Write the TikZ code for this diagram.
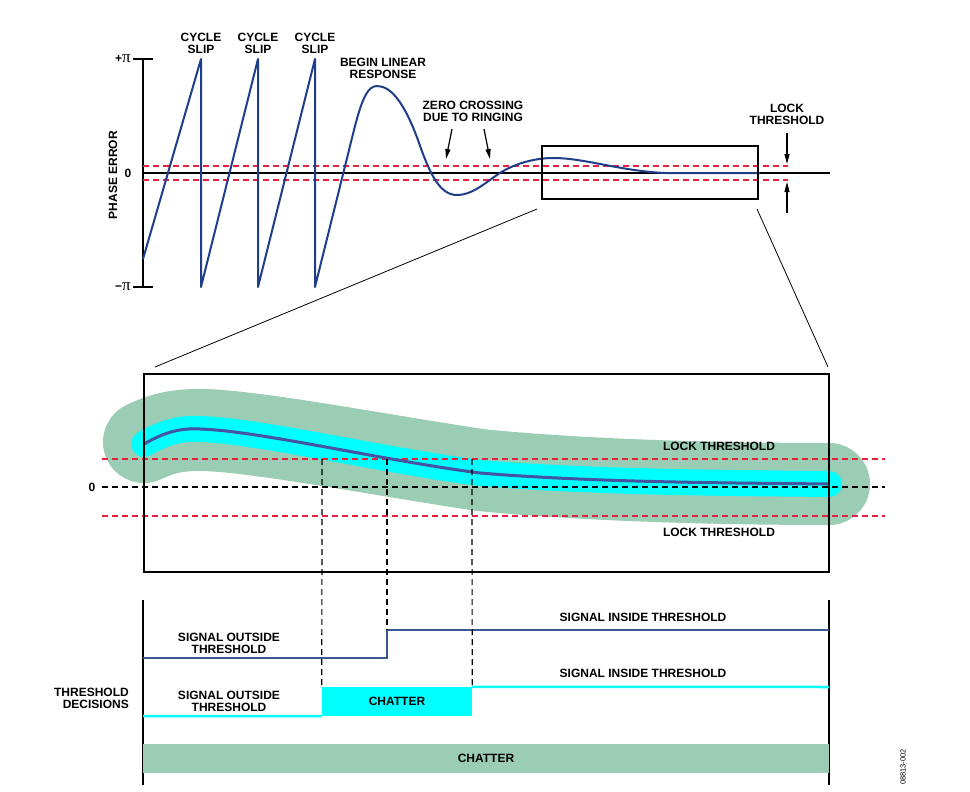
\documentclass[tikz,border=0pt]{standalone}
\usepackage{fontspec}
\setmainfont{Liberation Sans}
\newfontfamily\pifont{Liberation Serif}
\usetikzlibrary{arrows.meta, calc}
\definecolor{curveblue}{RGB}{30,62,138}
\definecolor{traceblue}{RGB}{68,84,160}
\definecolor{stepblue}{RGB}{58,88,150}
\definecolor{lockred}{RGB}{232,32,64}
\definecolor{chattergreen}{RGB}{155,204,180}
\definecolor{chattercyan}{RGB}{0,255,255}
\newcommand\bigpi{{\pifont\fontsize{17}{17}\selectfont\mdseries π}}
\tikzset{
  lbl/.style     = {font=\fontsize{12}{12}\selectfont\bfseries, align=center, inner sep=0pt},
  axis/.style    = {black, line width=1.5pt},
  frame/.style   = {black, line width=1.5pt},
  curve/.style   = {curveblue, line width=2pt, line join=round},
  thr/.style     = {lockred, line width=1.2pt, dash pattern=on 6pt off 4pt},
  guide/.style   = {black, line width=1.2pt, dash pattern=on 6pt off 4pt},
  arrow/.style   = {-{Triangle[length=10pt, width=5pt]}, line width=1.2pt},
  lead/.style    = {black, line width=0.8pt},
  stepline/.style= {stepblue, line width=2pt},
  cyanline/.style= {chattercyan, line width=2.5pt},
}

\begin{document}
\begin{tikzpicture}[x=1pt, y=-1pt]
  \useasboundingbox (0,0) rectangle (970,792);
  % ---- phase error versus time ----
  \draw[axis] (143,59) -- (143,287);
  \draw[axis] (133,59) -- (153,59);
  \draw[axis] (133,287) -- (153,287);
  \node[lbl, anchor=east] (pplus) at (131,59) {+\bigpi};
  \node[lbl, anchor=east] (pminus) at (131,287) {−\bigpi};
  \node[lbl] (pzero) at (128,173) {0};
  \node[lbl, rotate=90] (perr) at (113,175) {PHASE ERROR};
  \draw[thr] (143,166) -- (788,166);
  \draw[thr] (143,180) -- (788,180);
  \draw[black, line width=1.2pt] (143,173) -- (830,173);
  % sawtooth, then the ringing response
  \draw[curve] (143,259) -- (201,59) -- (201,287) -- (258,59) -- (258,287)
    -- (315,59) -- (315,287) -- (354,130)
    .. controls (362,98) and (368,86) .. (377,86)
    .. controls (392,86) and (405,105) .. (418,140)
    .. controls (430,175) and (440,195) .. (457,195)
    .. controls (475,195) and (490,178) .. (505,170)
    .. controls (520,162) and (538,158) .. (553,158)
    .. controls (585,158) and (620,171) .. (665,173) -- (760,173);
  \foreach \x in {201,258,315} {
    \node[lbl] (slip\x) at (\x,43) {CYCLE\\SLIP};
  }
  \node[lbl] (linear) at (383,68.5) {BEGIN LINEAR\\RESPONSE};
  \node[lbl] (zc) at (473,111.5) {ZERO CROSSING\\DUE TO RINGING};
  \coordinate (zcA) at (452,129);
  \coordinate (zcAend) at (446,159);
  \coordinate (zcB) at (484,129);
  \coordinate (zcBend) at (490,159);
  \draw[arrow] (zcA) -- (zcAend);
  \draw[arrow] (zcB) -- (zcBend);
  \node[lbl] (lockTop) at (787,114) {LOCK\\THRESHOLD};
  \coordinate (lkA) at (787,133);
  \coordinate (lkAend) at (787,164);
  \coordinate (lkB) at (787,213);
  \coordinate (lkBend) at (787,182);
  \draw[arrow] (lkA) -- (lkAend);
  \draw[arrow] (lkB) -- (lkBend);
  % zoom window and its enlargement
  \coordinate (zoomNW) at (542,146);
  \coordinate (zoomSE) at (758,199);
  \coordinate (bigNW) at (144,374);
  \coordinate (bigSE) at (829,572);
  \draw[black, line width=1.3pt] (zoomNW) rectangle (zoomSE);
  \coordinate (leadLa) at (537,209);
  \coordinate (leadLb) at (155,367);
  \coordinate (leadRa) at (757,209);
  \coordinate (leadRb) at (828,367);
  \draw[lead] (leadLa) -- (leadLb);
  \draw[lead] (leadRa) -- (leadRb);
  % ---- enlarged settling detail ----
  \draw[chattergreen, line width=82pt, line cap=round]
    (144,442) .. controls (165,432) and (180,430) .. (200,430)
    .. controls (250,430) and (380,455) .. (480,470)
    .. controls (600,482) and (750,484) .. (829,484);
  \draw[chattercyan, line width=26pt, line cap=round]
    (144,444) .. controls (165,432) and (180,428) .. (200,429)
    .. controls (260,431) and (380,460) .. (480,473)
    .. controls (600,483) and (750,483) .. (829,484);
  \draw[thr] (102,459) -- (885,459);
  \draw[thr] (102,516) -- (885,516);
  \draw[guide] (102,487) -- (885,487);
  \node[lbl] (bzero) at (92,487) {0};
  \draw[traceblue, line width=3pt]
    (144,444) .. controls (165,432) and (180,428) .. (200,429)
    .. controls (260,431) and (380,460) .. (480,473)
    .. controls (600,483) and (750,483) .. (829,484);
  \node[lbl] (lockUp) at (719,446) {LOCK THRESHOLD};
  \node[lbl] (lockDn) at (719,532) {LOCK THRESHOLD};
  \draw[frame] (bigNW) rectangle (bigSE);
  % ---- threshold decisions ----
  \draw[axis] (143,600) -- (143,785);
  \draw[axis] (829,600) -- (829,785);
  \node[lbl, align=right, anchor=east] (decide) at (129,698.5) {THRESHOLD\\DECISIONS};
  \draw[stepline] (143,658) -- (387,658) -- (387,630) -- (829,630);
  \node[lbl] (outA) at (229,643) {SIGNAL OUTSIDE\\THRESHOLD};
  \node[lbl] (inA) at (643,617) {SIGNAL INSIDE THRESHOLD};
  \node[lbl, fill=chattercyan, minimum width=150pt, minimum height=29pt] (chatA) at (397,701.5) {CHATTER};
  \draw[cyanline] (143,716) -- (chatA.south west);
  \draw[cyanline] (chatA.north east) -- (829,687);
  \node[lbl] (outB) at (229,701) {SIGNAL OUTSIDE\\THRESHOLD};
  \node[lbl] (inB) at (643,673) {SIGNAL INSIDE THRESHOLD};
  \node[lbl, fill=chattergreen, minimum width=686pt, minimum height=29pt] (chatB) at (486,758.5) {CHATTER};
  \coordinate (crossA) at (322,459);
  \coordinate (crossB) at (387,459);
  \coordinate (crossC) at (472,459);
  \draw[guide] (crossA) -- (chatA.north west);
  \draw[guide] (crossB) -- (387,630);
  \draw[guide] (crossC) -- (chatA.north east);
  \node[font=\fontsize{7.5}{8}\selectfont, rotate=90, inner sep=0pt] (figno) at (903,767) {08813-002};
\end{tikzpicture}
\end{document}
